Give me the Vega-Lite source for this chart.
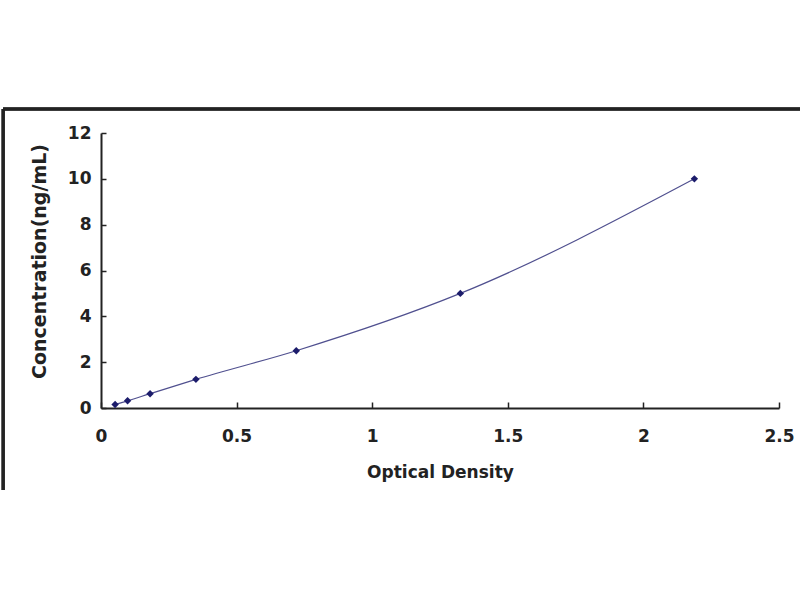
{
  "$schema": "https://vega.github.io/schema/vega-lite/v6.json",
  "width": 678,
  "height": 275,
  "autosize": {"type": "none"},
  "padding": {"left": 101, "top": 133, "right": 21, "bottom": 192},
  "background": "white",
  "data": {
    "values": [
      {"od": 0.052, "conc": 0.156},
      {"od": 0.098, "conc": 0.313},
      {"od": 0.181, "conc": 0.625},
      {"od": 0.35, "conc": 1.25},
      {"od": 0.72, "conc": 2.5},
      {"od": 1.325, "conc": 5},
      {"od": 2.188, "conc": 10}
    ]
  },
  "layer": [
    {
      "mark": {"type": "line", "interpolate": "monotone", "color": "#50508f", "strokeWidth": 1.2},
      "encoding": {
        "x": {
          "field": "od",
          "type": "quantitative",
          "title": "Optical Density",
          "scale": {"domain": [0, 2.5], "nice": false, "zero": false},
          "axis": {
            "values": [0, 0.5, 1, 1.5, 2, 2.5],
            "format": "~g",
            "grid": false,
            "labelFlush": false,
            "domainColor": "#222222",
            "domainWidth": 2,
            "tickColor": "#222222",
            "tickWidth": 1.5,
            "tickSize": -6,
            "labelPadding": 26,
            "labelFont": "DejaVu Sans",
            "labelFontWeight": "bold",
            "labelFontSize": 17,
            "labelColor": "#222222",
            "titleFont": "DejaVu Sans",
            "titleFontWeight": "bold",
            "titleFontSize": 17,
            "titleColor": "#222222",
            "titlePadding": 20
          }
        },
        "y": {
          "field": "conc",
          "type": "quantitative",
          "title": "Concentration(ng/mL)",
          "scale": {"domain": [0, 12], "nice": false},
          "axis": {
            "values": [0, 2, 4, 6, 8, 10, 12],
            "grid": false,
            "labelFlush": false,
            "domainColor": "#222222",
            "domainWidth": 2,
            "tickColor": "#222222",
            "tickWidth": 1.5,
            "tickSize": -5,
            "labelPadding": 15,
            "labelFont": "DejaVu Sans",
            "labelFontWeight": "bold",
            "labelFontSize": 17,
            "labelColor": "#222222",
            "titleFont": "DejaVu Sans",
            "titleFontWeight": "bold",
            "titleFontSize": 19,
            "titleColor": "#222222",
            "titlePadding": 18,
            "titleY": 128
          }
        }
      }
    },
    {
      "mark": {"type": "point", "shape": "diamond", "filled": true, "color": "#1c1c6b", "size": 55, "opacity": 1},
      "encoding": {
        "x": {"field": "od", "type": "quantitative"},
        "y": {"field": "conc", "type": "quantitative"}
      }
    },
    {
      "mark": {"type": "rule", "color": "#222222", "strokeWidth": 2.5},
      "encoding": {
        "x": {"datum": -0.361},
        "y": {"datum": -3.58},
        "y2": {"datum": 13.05}
      }
    },
    {
      "mark": {"type": "rule", "color": "#222222", "strokeWidth": 2.5},
      "encoding": {
        "x": {"datum": -0.361},
        "x2": {"datum": 2.6},
        "y": {"datum": 13.05}
      }
    }
  ],
  "config": {"view": {"stroke": null}}
}
